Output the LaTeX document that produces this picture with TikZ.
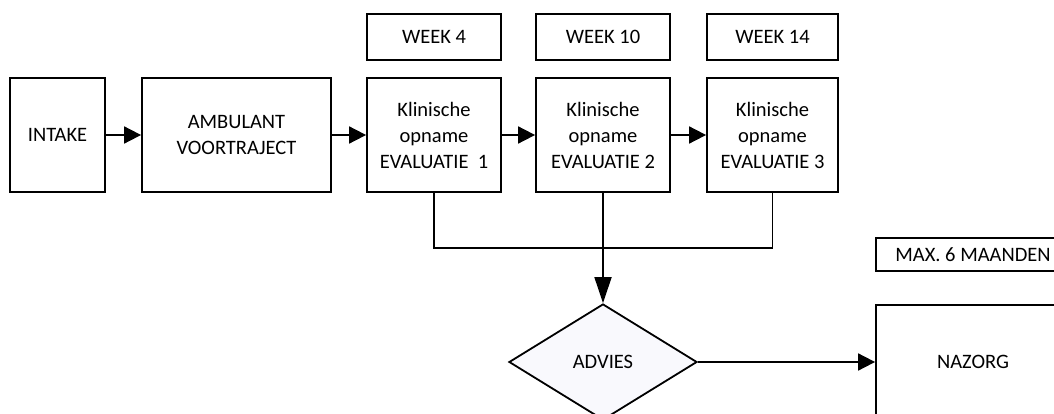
\documentclass[tikz,border=0pt]{standalone}
\usepackage{fontspec}
\setmainfont{Carlito}
\usetikzlibrary{shapes.geometric,arrows.meta}
\definecolor{advfill}{HTML}{F9F9FD}
\begin{document}
\begin{tikzpicture}[x=1pt,y=-1pt,
  box/.style={draw,line width=1.8pt,rectangle,inner sep=0pt,align=center,
    font=\fontsize{20.5}{26}\selectfont},
  arr/.style={line width=1.8pt,-{Triangle[length=17pt,width=17pt]}},
  arrl/.style={line width=1.8pt,-{Triangle[length=26pt,width=17pt]}},
  lin/.style={line width=1.8pt}]
\useasboundingbox (0,0) rectangle (1054,414);
\clip (0,0) rectangle (1054,414);
\fill[white] (0,0) rectangle (1054,414);
% main row
\node[box,minimum width=95pt,minimum height=114pt] (intake) at (57.5,135) {INTAKE};
\node[box,minimum width=189pt,minimum height=114pt] (amb) at (236.5,135) {AMBULANT\\VOORTRAJECT};
\node[box,minimum width=134pt,minimum height=114pt] (k1) at (434,135) {Klinische\\opname\\EVALUATIE\ \ 1};
\node[box,minimum width=134pt,minimum height=114pt] (k2) at (603,135) {Klinische\\opname\\EVALUATIE 2};
\node[box,minimum width=131pt,minimum height=114pt] (k3) at (772.5,135) {Klinische\\opname\\EVALUATIE 3};
% week labels
\node[box,minimum width=134pt,minimum height=46pt] (w1) at (434,37) {WEEK 4};
\node[box,minimum width=134pt,minimum height=46pt] (w2) at (603,37) {WEEK 10};
\node[box,minimum width=131pt,minimum height=46pt] (w3) at (772.5,37) {WEEK 14};
% advies
\node[draw,diamond,line width=1.8pt,inner sep=0pt,minimum width=188pt,minimum height=116pt,
  fill=advfill,font=\fontsize{20.5}{26}\selectfont] (adv) at (603,362) {ADVIES};
% nazorg and max
\node[box,minimum width=194pt,minimum height=114pt] (naz) at (973,362) {NAZORG};
\node[box,minimum width=194pt,minimum height=33pt] (max) at (973,254.5) {MAX. 6 MAANDEN};
% connectors
\draw[arr] (intake) -- (amb);
\draw[arr] (amb) -- (k1);
\draw[arr] (k1) -- (k2);
\draw[arr] (k2) -- (k3);
\coordinate (j) at (603,248);
\draw[lin] (k1.south) |- (j) -| (k3.south);
\draw[lin] (k2.south) -- (j);
\draw[arrl] (j) -- (adv.north);
\draw[arr] (adv.east) -- (naz.west);
\end{tikzpicture}
\end{document}
